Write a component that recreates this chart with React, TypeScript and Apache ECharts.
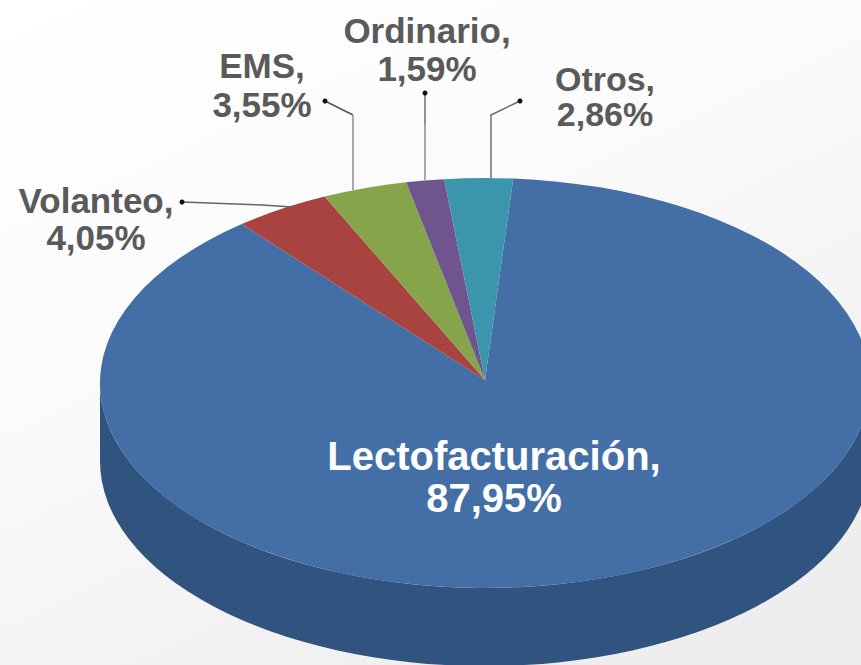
import React, { useEffect, useRef } from "react";
import * as echarts from "echarts";

const categories = ["Lectofacturación", "Volanteo", "EMS", "Ordinario", "Otros"];
const shares = [87.95, 4.05, 3.55, 1.59, 2.86];
const valueLabels = ["87,95%", "4,05%", "3,55%", "1,59%", "2,86%"];
const sliceColors = ["#446fa6", "#a8433f", "#86a44a", "#6f548e", "#3b95ad"];
const wallColor = "#30537f";

const CX = 485, CY = 383, RX = 385, RY = 205, DEPTH = 78;
const APEX_Y = 380;
const START_DEG = 4.2;

const labelX = [494, 96, 262, 427, 605];
const labelY = [477, 219, 85, 49, 96];
const labelSize = [40, 35, 35, 35, 34];
const labelLeading = [42, 37, 39, 38, 35];
const labelColor = ["#ffffff", "#5a5a5a", "#5a5a5a", "#5a5a5a", "#5a5a5a"];

// leader lines: [dark part, light part], with the dot at the first point
const leaders: number[][][][] = [
  [],
  [[[182, 202], [262, 205], [292, 207]]],
  [[[325, 101], [353, 115]], [[353, 115], [353, 190]]],
  [[[425, 93], [425, 125]], [[425, 125], [425, 180]]],
  [[[520, 101], [491, 115], [491, 178]]],
];
const leaderColors = [
  ["#000"],
  ["#666666"],
  ["#555555", "#a9a9a9"],
  ["#666666", "#a9a9a9"],
  ["#666666"],
];

const total = shares.reduce((a, b) => a + b, 0);
const cumulative = shares.map((_, i) => shares.slice(0, i).reduce((a, b) => a + b, 0));
const pt = (deg: number, dy = 0) => {
  const r = (deg * Math.PI) / 180;
  return [CX + RX * Math.sin(r), CY + dy - RY * Math.cos(r)];
};

const slicePath = (a0: number, a1: number) => {
  const p0 = pt(a0);
  const p1 = pt(a1);
  const large = a1 - a0 > 180 ? 1 : 0;
  return `M${CX} ${APEX_Y}L${p0[0]} ${p0[1]}A${RX} ${RY} 0 ${large} 1 ${p1[0]} ${p1[1]}Z`;
};
const wallPath = `M${CX - RX} ${CY}A${RX} ${RY} 0 0 0 ${CX + RX} ${CY}L${CX + RX} ${CY + DEPTH}A${RX} ${RY} 0 0 1 ${CX - RX} ${CY + DEPTH}Z`;

const FONT = '"Liberation Sans", Arial, sans-serif';

export default function App() {
  const ref = useRef<HTMLDivElement>(null);
  useEffect(() => {
    const chart = echarts.init(ref.current!, undefined, { renderer: "svg" });
    const rows = categories.map((name, i) => ({ name, value: shares[i] }));
    chart.setOption({
      animation: false,
      backgroundColor: {
        type: "linear", x: 0, y: 0, x2: 0.6, y2: 1,
        colorStops: [
          { offset: 0, color: "#ffffff" },
          { offset: 0.45, color: "#fbfbfb" },
          { offset: 1, color: "#eeeeee" },
        ],
      },
      series: [
        {
          type: "custom",
          coordinateSystem: "none",
          silent: true,
          data: rows,
          z: 1,
          renderItem: (params: any) => {
            const i = params.dataIndex;
            const a0 = START_DEG + (cumulative[i] / total) * 360;
            const a1 = START_DEG + ((cumulative[i] + shares[i]) / total) * 360;
            const children: any[] = [];
            if (i === 0) {
              children.push({
                type: "path",
                shape: { pathData: wallPath },
                style: { fill: wallColor, stroke: null },
              });
            }
            children.push({
              type: "path",
              shape: { pathData: slicePath(a0, a1) },
              style: { fill: sliceColors[i], stroke: null },
            });
            return { type: "group", children };
          },
        },
        {
          type: "custom",
          coordinateSystem: "none",
          silent: true,
          data: rows,
          z: 2,
          renderItem: (params: any) => {
            const i = params.dataIndex;
            const children: any[] = leaders[i].map((points, j) => ({
              type: "polyline",
              shape: { points },
              style: { fill: null, stroke: leaderColors[i][j], lineWidth: j === 0 ? 1.4 : 2 },
            }));
            if (leaders[i].length) {
              children.push({
                type: "circle",
                shape: { cx: leaders[i][0][0][0], cy: leaders[i][0][0][1], r: 2.5 },
                style: { fill: "#111111" },
              });
            }
            children.push({
              type: "text",
              style: {
                text: `${categories[i]},\n${valueLabels[i]}`,
                x: labelX[i],
                y: labelY[i],
                align: "center",
                verticalAlign: "middle",
                fill: labelColor[i],
                font: `bold ${labelSize[i]}px ${FONT}`,
                lineHeight: labelLeading[i],
              },
            });
            return { type: "group", children };
          },
        },
      ],
    });
    return () => chart.dispose();
  }, []);
  return <div ref={ref} style={{ position: "absolute", left: 0, top: 0, width: 861, height: 665 }} />;
}
